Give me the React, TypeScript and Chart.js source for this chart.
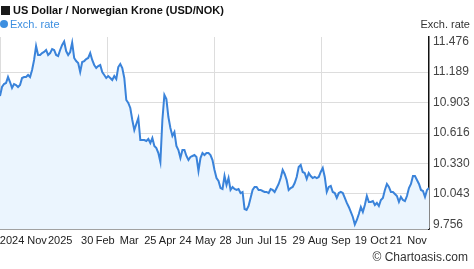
import React, { useEffect, useRef } from 'react';
import { Chart, registerables } from 'chart.js';

Chart.register(...registerables);

// USD/NOK exchange rate, roughly one point every few trading days, Nov 2024 - Nov 2025
const rates: number[] = [
  10.964, 11.048, 11.076, 11.086, 11.142, 11.095, 11.039, 11.076, 11.067, 11.048,
  11.067, 11.133, 11.142, 11.142, 11.161, 11.142, 11.208, 11.302, 11.433, 11.349,
  11.349, 11.367, 11.377, 11.396, 11.349, 11.367, 11.405, 11.396, 11.349, 11.339,
  11.396, 11.443, 11.476, 11.386, 11.349, 11.377, 11.465, 11.321, 11.292, 11.274,
  11.189, 11.283, 11.292, 11.311, 11.321, 11.367, 11.302, 11.255, 11.227, 11.245,
  11.255, 11.189, 11.161, 11.133, 11.151, 11.133, 11.114, 11.151, 11.123, 11.236,
  11.264, 11.227, 11.133, 10.926, 10.898, 10.851, 10.738, 10.644, 10.701, 10.757,
  10.550, 10.550, 10.550, 10.541, 10.560, 10.522, 10.569, 10.494, 10.475, 10.428,
  10.344, 10.738, 10.973, 10.935, 10.766, 10.663, 10.588, 10.625, 10.494, 10.456,
  10.381, 10.456, 10.456, 10.400, 10.362, 10.391, 10.400, 10.409, 10.391, 10.259,
  10.381, 10.428, 10.409, 10.428, 10.428, 10.409, 10.362, 10.269, 10.193, 10.165,
  10.099, 10.090, 10.212, 10.128, 10.193, 10.081, 10.109, 10.090, 10.081, 10.090,
  10.052, 10.062, 9.902, 9.893, 9.930, 10.006, 10.081, 10.109, 10.109, 10.081,
  10.081, 10.071, 10.062, 10.062, 10.052, 10.090, 10.081, 10.062, 10.099, 10.137,
  10.193, 10.269, 10.231, 10.175, 10.081, 10.099, 10.109, 10.146, 10.203, 10.297,
  10.316, 10.250, 10.240, 10.184, 10.240, 10.212, 10.193, 10.203, 10.193, 10.203,
  10.250, 10.287, 10.203, 10.062, 10.109, 10.118, 10.062, 10.052, 10.006, 10.052,
  10.062, 10.052, 10.006, 9.959, 9.921, 9.874, 9.827, 9.756, 9.799, 9.855,
  9.921, 9.874, 9.940, 10.024, 9.968, 9.968, 9.977, 9.940, 9.959, 9.930,
  9.987, 10.006, 10.081, 10.137, 10.109, 10.062, 10.062, 10.043, 10.024, 9.968,
  10.015, 9.987, 9.977, 10.024, 10.099, 10.137, 10.212, 10.212, 10.175, 10.137,
  10.081, 10.071, 10.015, 10.081, 10.099,
];

const xTickLabels: string[] = [
  '2024', 'Nov', '2025', '30', 'Feb', 'Mar', '25', 'Apr', '24', 'May', '28',
  'Jun', 'Jul', '15', '29', 'Aug', 'Sep', '19', 'Oct', '21', 'Nov',
];
// where each label sits, in data-point index units
const xTickIndex: number[] = [
  6, 18.5, 30, 43.5, 52.5, 64.5, 75, 83.5, 92.5, 102.5, 112.5,
  122, 132, 140, 149, 158.5, 170, 180, 189, 197.5, 208,
];
// vertical grid lines (plot edge and quarters), in index units
const xGridIndex: number[] = [0, 53.5, 107, 160.5];

const yTickValues: number[] = [9.756, 10.043, 10.33, 10.616, 10.903, 11.189, 11.476];
const yMin = 9.714;
const yMax = 11.518;

const FONT = "'Liberation Sans', Arial, sans-serif";

export default function App() {
  const canvasRef = useRef<HTMLCanvasElement | null>(null);

  useEffect(() => {
    document.body.style.margin = '0';
    const canvas = canvasRef.current;
    if (!canvas) return;
    Chart.defaults.font.family = FONT;
    const nGrid = xGridIndex.length;
    const chart = new Chart(canvas, {
      type: 'line',
      data: {
        datasets: [
          {
            label: 'Exch. rate',
            data: rates.map((v, i) => ({ x: i, y: v })),
            borderColor: '#3a83da',
            borderWidth: 2,
            backgroundColor: '#ebf5fe',
            fill: 'start',
            pointRadius: 0,
            tension: 0,
          },
        ],
      },
      options: {
        responsive: false,
        animation: false,
        layout: { padding: { top: 37, left: 0, right: 0, bottom: 0 } },
        plugins: { legend: { display: false }, tooltip: { enabled: false }, title: { display: false } },
        scales: {
          x: {
            type: 'linear',
            position: 'bottom',
            min: 0,
            max: rates.length - 1,
            afterBuildTicks: (s: any) => {
              s.ticks = [
                ...xGridIndex.map((v) => ({ value: v })),
                ...xTickIndex.map((v) => ({ value: v })),
              ];
            },
            afterFit: (s: any) => {
              s.height = 40;
              s.paddingLeft = 0;
              s.paddingRight = 0;
            },
            ticks: {
              autoSkip: false,
              maxRotation: 0,
              minRotation: 0,
              padding: 5,
              color: '#222',
              font: { size: 11, family: FONT },
              callback: (_v: any, i: number) => (i < nGrid ? '' : xTickLabels[i - nGrid]),
            },
            grid: {
              drawTicks: false,
              color: (c: any) => (c.index < nGrid ? '#dddddd' : 'rgba(0,0,0,0)'),
              lineWidth: 1,
            },
            border: { color: '#444', width: 1.5 },
          },
          y: {
            position: 'right',
            min: yMin,
            max: yMax,
            afterBuildTicks: (s: any) => {
              s.ticks = yTickValues.map((v) => ({ value: v }));
            },
            afterFit: (s: any) => {
              s.width = 45;
              s.paddingTop = 0;
              s.paddingBottom = 0;
            },
            ticks: {
              autoSkip: false,
              padding: 4,
              color: '#444',
              font: { size: 12, family: FONT },
              callback: (v: any) => Number(v).toFixed(3),
            },
            grid: {
              drawTicks: false,
              color: (c: any) =>
                c.index === 0 || c.index === yTickValues.length - 1 ? 'rgba(0,0,0,0)' : '#dddddd',
              lineWidth: 1,
            },
            border: { color: '#111', width: 1.5 },
          },
        },
      },
    } as any);
    return () => chart.destroy();
  }, []);

  const base: React.CSSProperties = { position: 'absolute', fontFamily: FONT, whiteSpace: 'nowrap', lineHeight: '13px' };

  return (
    <div style={{ position: 'relative', width: 474, height: 269, background: '#fff', overflow: 'hidden' }}>
      <canvas ref={canvasRef} width={474} height={269} style={{ position: 'absolute', left: 0, top: 0 }} />
      <div style={{ position: 'absolute', left: 1, top: 6, width: 9, height: 9, background: '#1a1a1a' }} />
      <div style={{ ...base, left: 13, top: 4, fontSize: 11, fontWeight: 'bold', color: '#111' }}>
        US Dollar / Norwegian Krone (USD/NOK)
      </div>
      <div style={{ position: 'absolute', left: 0, top: 20, width: 8, height: 8, borderRadius: 4, background: '#3d8fe0' }} />
      <div style={{ ...base, left: 10, top: 18, fontSize: 11, color: '#3d8fe0' }}>Exch. rate</div>
      <div style={{ ...base, right: 4, top: 18, fontSize: 11, color: '#333' }}>Exch. rate</div>
      <div style={{ ...base, right: 6, top: 251, fontSize: 12, color: '#333' }}>© Chartoasis.com</div>
    </div>
  );
}
